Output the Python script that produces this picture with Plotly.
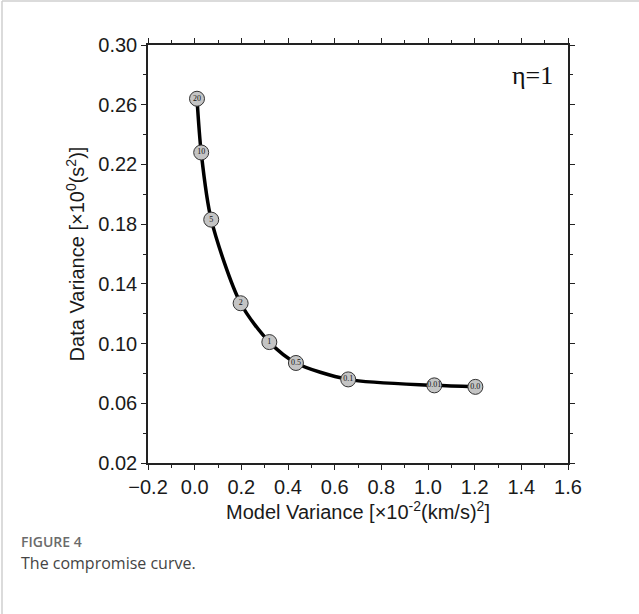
import plotly.graph_objects as go

# Data
model_variance = [0.01, 0.028, 0.071, 0.197, 0.32, 0.434, 0.658, 1.027, 1.203]
data_variance = [0.264, 0.228, 0.183, 0.127, 0.101, 0.087, 0.076, 0.072, 0.071]
damping_labels = ["20", "10", "5", "2", "1", "0.5", "0.1", "0.01", "0.0"]

x_ticks = [-0.2, 0.0, 0.2, 0.4, 0.6, 0.8, 1.0, 1.2, 1.4, 1.6]
x_ticklabels = ["\u22120.2", "0.0", "0.2", "0.4", "0.6", "0.8", "1.0", "1.2", "1.4", "1.6"]
y_ticks = [0.02, 0.06, 0.10, 0.14, 0.18, 0.22, 0.26, 0.30]
y_ticklabels = ["0.02", "0.06", "0.10", "0.14", "0.18", "0.22", "0.26", "0.30"]

W, H = 639, 614
L, R, T, B = 148, 71, 45, 151
PW, PH = W - L - R, H - T - B


def px(xp):
    return (xp - L) / PW


def py(yp):
    return (H - B - yp) / PH


fig = go.Figure()
fig.add_trace(go.Scatter(
    x=model_variance, y=data_variance,
    mode="lines+markers+text",
    line=dict(color="black", width=3.5, shape="spline", smoothing=0.8),
    marker=dict(size=15, color="#c4c4c4", line=dict(color="#333333", width=1)),
    text=damping_labels, textposition="middle center",
    textfont=dict(family="Liberation Serif", size=8, color="#111111"),
    hoverinfo="skip", showlegend=False, cliponaxis=False,
))

axis_common = dict(
    showgrid=False, zeroline=False, showline=True, linecolor="#222222", linewidth=1.5,
    mirror="allticks", ticks="outside", ticklen=5, tickwidth=1.2, tickcolor="#222222",
    tickfont=dict(family="Liberation Sans", size=20, color="#1a1a1a"),
    title_font=dict(family="Liberation Sans", size=20, color="#1a1a1a"),
)

fig.update_xaxes(
    range=[-0.2, 1.6], tickvals=x_ticks, ticktext=x_ticklabels,
    minor=dict(dtick=0.1, tick0=0, ticks="outside", ticklen=3, tickwidth=1, tickcolor="#222222"),
    title=dict(text="Model Variance [\u00d710<sup>-2</sup>(km/s)<sup>2</sup>]", standoff=7),
    **axis_common,
)
fig.update_yaxes(
    range=[0.02, 0.30], tickvals=y_ticks, ticktext=y_ticklabels,
    minor=dict(dtick=0.02, tick0=0, ticks="outside", ticklen=3, tickwidth=1, tickcolor="#222222"),
    title=dict(text="Data Variance [\u00d710<sup>0</sup>(s<sup>2</sup>)]", standoff=8),
    **axis_common,
)

fig.add_annotation(
    x=px(555), y=py(75), xref="paper", yref="paper", text="\u03b7=1", showarrow=False,
    xanchor="right", yanchor="middle",
    font=dict(family="Liberation Serif", size=26, color="#111111"),
)

# Caption
fig.add_annotation(
    x=px(19), y=py(541), xref="paper", yref="paper", text="FIGURE 4", showarrow=False,
    xanchor="left", yanchor="middle",
    font=dict(family="Open Sans", size=14, color="#6b6b6b", weight=600),
)
fig.add_annotation(
    x=px(19), y=py(563), xref="paper", yref="paper", text="The compromise curve.",
    showarrow=False, xanchor="left", yanchor="middle",
    font=dict(family="Open Sans", size=16, color="#444444"),
)

# Page border (left and top)
fig.add_shape(type="line", xref="paper", yref="paper",
              x0=px(2), x1=px(2), y0=py(H), y1=py(1),
              line=dict(color="#cfcfcf", width=1.5))
fig.add_shape(type="line", xref="paper", yref="paper",
              x0=px(2), x1=px(W), y0=py(1), y1=py(1),
              line=dict(color="#cfcfcf", width=1.5))

fig.update_layout(
    width=W, height=H, margin=dict(l=L, r=R, t=T, b=B, autoexpand=False),
    paper_bgcolor="white", plot_bgcolor="white",
)

fig.write_html("out.html")
